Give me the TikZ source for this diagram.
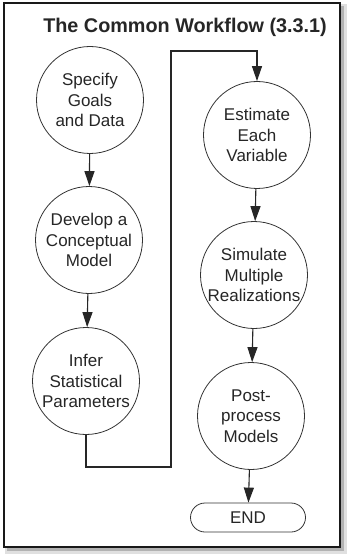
\documentclass[tikz,border=0pt]{standalone}
\usepackage{fontspec}
\setmainfont{Liberation Sans}
\usetikzlibrary{arrows.meta,shapes.misc}

\tikzset{
  stage/.style={circle,draw=black!80,line width=.8pt,minimum size=107pt,inner sep=0pt,
    align=center,font=\fontsize{17}{20.7}\selectfont,text=black!85},
  finish/.style={rounded rectangle,draw=black!80,line width=.8pt,minimum width=115pt,
    minimum height=29pt,inner sep=0pt,font=\fontsize{17}{20}\selectfont,text=black!85},
  flow/.style={line width=1.1pt,draw=black!85,-{Triangle[length=15pt,width=10pt]}}
}

\begin{document}
\begin{tikzpicture}[x=1pt,y=-1pt]
\fill[white] (0,0) rectangle (350,556);
\useasboundingbox (0,0) rectangle (350,556);
% frame with shadow
\fill[black!12] (5,4) rectangle (347,554);
\fill[black!30] (7,6) rectangle (344,551);
\draw[fill=white,draw=black!90,line width=1.4pt] (4,3) rectangle (340,547);

\node[font=\bfseries\fontsize{19.8}{22}\selectfont,anchor=base,text=black!85] (title) at (185,33)
  {The Common Workflow (3.3.1)};

% left column
\node[stage] (specify) at (90,100) {Specify\\Goals\\and Data};
\node[stage] (develop) at (89,240) {Develop a\\Conceptual\\Model};
\node[stage] (infer) at (86,381) {Infer\\Statistical\\Parameters};

% right column
\node[stage] (estimate) at (257,135) {Estimate\\Each\\Variable};
\node[stage] (simulate) at (254,275) {Simulate\\Multiple\\Realizations};
\node[stage] (postproc) at (251,416) {Post-\\process\\Models};
\node[finish] (endnode) at (248,517.5) {END};

\draw[flow] (specify) -- (develop);
\draw[flow] (develop) -- (infer);
\draw[flow] (infer.south) |- (171,467) -- (171,51) -| (estimate.north);
\draw[flow] (estimate) -- (simulate);
\draw[flow] (simulate) -- (postproc);
\draw[flow] (postproc) -- (endnode);
\end{tikzpicture}
\end{document}
